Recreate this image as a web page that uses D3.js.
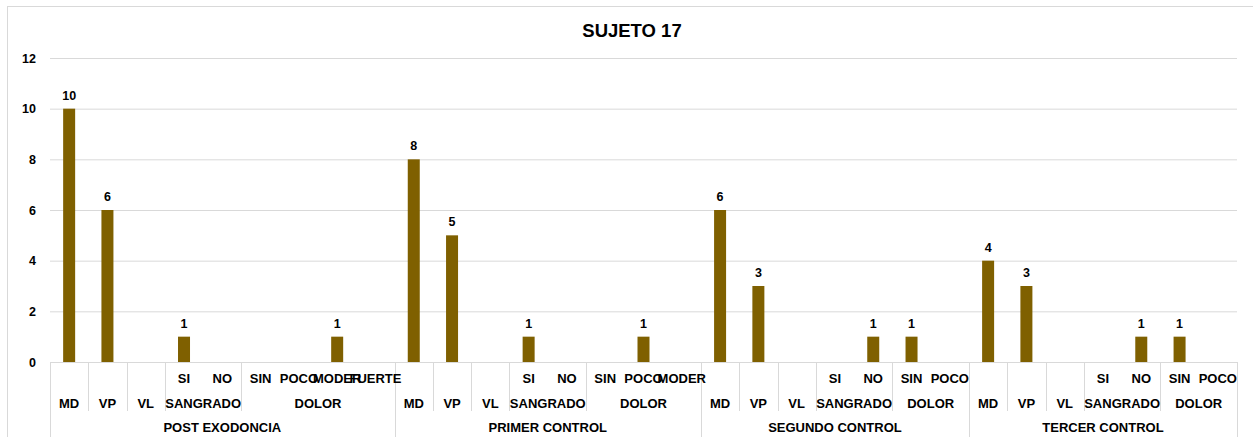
<!DOCTYPE html>
<html>
<head>
<meta charset="utf-8">
<script src="https://cdn.jsdelivr.net/npm/d3@7"></script>
<style>
  html, body { margin: 0; padding: 0; background: #fff; }
  svg { display: block; }
  text { font-family: "Liberation Sans", Arial, sans-serif; font-weight: bold; fill: #000; }
</style>
</head>
<body>
<svg id="chart" width="1253" height="437"></svg>
<script>
// Chart title
const title = "SUJETO 17";

// Control stages (outer axis level)
const stages = ["POST EXODONCIA", "PRIMER CONTROL", "SEGUNDO CONTROL", "TERCER CONTROL"];

// Measures recorded in each stage (middle axis level)
const measures = ["MD", "VP", "VL", "SANGRADO", "DOLOR"];

// Answer levels for the two qualitative measures (inner axis level)
const sangradoLevels = ["SI", "NO"];
const dolorLevels = [
  ["SIN", "POCO", "MODER", "FUERTE"],
  ["SIN", "POCO", "MODER"],
  ["SIN", "POCO"],
  ["SIN", "POCO"]
];

// Values per stage, in leaf order: MD, VP, VL, SANGRADO levels, DOLOR levels (null = blank)
const postExodoncia  = [10, 6, null, 1, null, null, null, 1, null];
const primerControl  = [8, 5, null, 1, null, null, 1, null];
const segundoControl = [6, 3, null, null, 1, 1, null];
const tercerControl  = [4, 3, null, null, 1, 1, null];
const stageValues = [postExodoncia, primerControl, segundoControl, tercerControl];

// Value axis ticks
const yTicks = [0, 2, 4, 6, 8, 10, 12];

// ---- flatten into leaves ----
const leaves = [];
stages.forEach((stage, si) => {
  const vals = stageValues[si];
  let k = 0;
  measures.forEach(m => {
    let subs = null;
    if (m === "SANGRADO") subs = sangradoLevels;
    if (m === "DOLOR") subs = dolorLevels[si];
    if (subs) {
      subs.forEach(s => {
        leaves.push({ id: si + "|" + m + "|" + s, stage, stageIndex: si, measure: m, leaf: s, value: vals[k++] });
      });
    } else {
      leaves.push({ id: si + "|" + m, stage, stageIndex: si, measure: m, leaf: null, value: vals[k++] });
    }
  });
});

const svg = d3.select("#chart");
const W = 1253, H = 437;
const plot = { left: 50, right: 1237, top: 58, bottom: 362 };
const fs = 13;

// chart frame
svg.append("rect")
  .attr("x", 7.5).attr("y", 6.5)
  .attr("width", W + 20).attr("height", H + 20)
  .attr("fill", "none").attr("stroke", "#d9d9d9").attr("stroke-width", 1);

const x = d3.scaleBand()
  .domain(leaves.map(d => d.id))
  .range([plot.left, plot.right])
  .paddingInner(0).paddingOuter(0);

const y = d3.scaleLinear().domain([0, 12]).range([plot.bottom, plot.top]);

// gridlines + tick labels
const yAxis = d3.axisLeft(y)
  .tickValues(yTicks)
  .tickSize(-(plot.right - plot.left))
  .tickPadding(14)
  .tickFormat(d3.format("d"));

const gy = svg.append("g")
  .attr("transform", `translate(${plot.left},0)`)
  .call(yAxis);
gy.select(".domain").remove();
gy.selectAll(".tick line").attr("stroke", "#d9d9d9").attr("stroke-width", 1);
gy.selectAll(".tick text")
  .attr("font-size", 12.5)
  .attr("font-family", "Liberation Sans, Arial, sans-serif")
  .attr("font-weight", "bold")
  .attr("fill", "#000");

// title
svg.append("text")
  .attr("x", 632).attr("y", 30)
  .attr("text-anchor", "middle")
  .attr("dominant-baseline", "central")
  .attr("font-size", 18.5)
  .text(title);

// bars
const barW = 12;
const barData = leaves.filter(d => d.value != null);
svg.append("g").selectAll("rect")
  .data(barData)
  .join("rect")
  .attr("x", d => x(d.id) + x.bandwidth() / 2 - barW / 2)
  .attr("y", d => y(d.value))
  .attr("width", barW)
  .attr("height", d => y(0) - y(d.value))
  .attr("fill", "#7f6000");

// value labels
svg.append("g").selectAll("text")
  .data(barData)
  .join("text")
  .attr("x", d => x(d.id) + x.bandwidth() / 2)
  .attr("y", d => y(d.value) - 13)
  .attr("text-anchor", "middle")
  .attr("dominant-baseline", "central")
  .attr("font-size", 12.5)
  .text(d => d.value);

// ---- multi-level category axis ----
const axisG = svg.append("g");
const lineColor = "#d9d9d9";
const rowLeaf = 378, rowMeasure = 403, rowStage = 427;
const midLineBottom = 411;

// category axis baseline
axisG.append("line")
  .attr("x1", plot.left).attr("x2", plot.right)
  .attr("y1", plot.bottom + 0.5).attr("y2", plot.bottom + 0.5)
  .attr("stroke", lineColor);

// measure groups (contiguous leaves sharing stage + measure)
const measureGroups = [];
leaves.forEach(d => {
  const last = measureGroups[measureGroups.length - 1];
  if (last && last.stageIndex === d.stageIndex && last.measure === d.measure) {
    last.items.push(d);
  } else {
    measureGroups.push({ stageIndex: d.stageIndex, measure: d.measure, items: [d] });
  }
});
measureGroups.forEach(g => {
  g.x0 = x(g.items[0].id);
  g.x1 = x(g.items[g.items.length - 1].id) + x.bandwidth();
});

// stage groups
const stageGroups = stages.map((s, si) => {
  const items = leaves.filter(d => d.stageIndex === si);
  return { stage: s, x0: x(items[0].id), x1: x(items[items.length - 1].id) + x.bandwidth() };
});

// separators between measures (short)
measureGroups.forEach((g, i) => {
  const isStageStart = i === 0 || measureGroups[i - 1].stageIndex !== g.stageIndex;
  if (!isStageStart) {
    axisG.append("line")
      .attr("x1", Math.round(g.x0) + 0.5).attr("x2", Math.round(g.x0) + 0.5)
      .attr("y1", plot.bottom).attr("y2", midLineBottom)
      .attr("stroke", lineColor);
  }
});

// separators between stages (full height)
const stageEdges = stageGroups.map(g => g.x0).concat([stageGroups[stageGroups.length - 1].x1]);
stageEdges.forEach(xv => {
  axisG.append("line")
    .attr("x1", Math.round(xv) + 0.5).attr("x2", Math.round(xv) + 0.5)
    .attr("y1", plot.bottom).attr("y2", H + 5)
    .attr("stroke", lineColor);
});

// inner leaf labels
axisG.append("g").selectAll("text")
  .data(leaves.filter(d => d.leaf))
  .join("text")
  .attr("x", d => x(d.id) + x.bandwidth() / 2)
  .attr("y", rowLeaf)
  .attr("text-anchor", "middle")
  .attr("dominant-baseline", "central")
  .attr("font-size", fs)
  .text(d => d.leaf);

// measure labels
axisG.append("g").selectAll("text")
  .data(measureGroups)
  .join("text")
  .attr("x", g => (g.x0 + g.x1) / 2)
  .attr("y", rowMeasure)
  .attr("text-anchor", "middle")
  .attr("dominant-baseline", "central")
  .attr("font-size", fs)
  .text(g => g.measure);

// stage labels
axisG.append("g").selectAll("text")
  .data(stageGroups)
  .join("text")
  .attr("x", g => (g.x0 + g.x1) / 2)
  .attr("y", rowStage)
  .attr("text-anchor", "middle")
  .attr("dominant-baseline", "central")
  .attr("font-size", fs)
  .text(g => g.stage);
</script>
</body>
</html>
